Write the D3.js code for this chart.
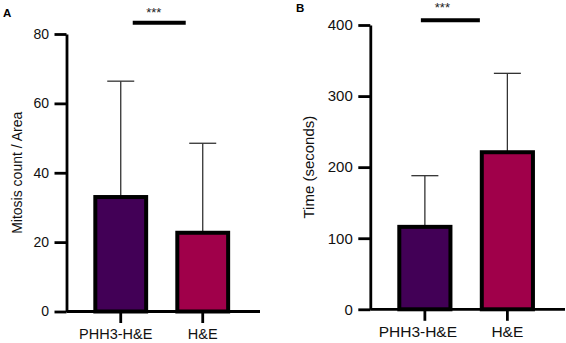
<!DOCTYPE html>
<html>
<head>
<meta charset="utf-8">
<script src="https://cdn.jsdelivr.net/npm/d3@7"></script>
<style>
  body { margin: 0; background: #fff; }
  svg { display: block; font-family: "Liberation Sans", Arial, Helvetica, sans-serif; }
</style>
</head>
<body>
<div id="chart"></div>
<script>
// groups shared by both panels
var groups = ["PHH3-H&E", "H&E"];
var barColors = ["#420056", "#a0004a"];

// panel A: mitosis count / area (mean, SD)
var mitosisMean = [33.0, 22.7];
var mitosisSD = [33.4, 25.8];
var mitosisTicks = [0, 20, 40, 60, 80];

// panel B: time in seconds (mean, SD)
var timeMean = [116, 221];
var timeSD = [72, 111];
var timeTicks = [0, 100, 200, 300, 400];

var sigLabel = "***";

var svg = d3.select("#chart").append("svg")
    .attr("width", 566)
    .attr("height", 343);

// Layout of each panel
var panels = [
  {
    letter: "A", letterX: 3, letterY: 17.3,
    yLabel: "Mitosis count / Area", yLabelX: 21.5, font: 14,
    mean: mitosisMean, sd: mitosisSD, ticks: mitosisTicks,
    xRange: [66.5, 260], yRange: [311.5, 34],
    xLabelY: 339, firstLabelDx: -5,
    sigY: 22.8, sigStarY: 17, sigFrom: 12, sigTo: -17, starDx: 33
  },
  {
    letter: "B", letterX: 296, letterY: 12.3,
    yLabel: "Time (seconds)", yLabelX: 314, font: 15,
    mean: timeMean, sd: timeSD, ticks: timeTicks,
    xRange: [370.3, 565], yRange: [309.3, 25],
    xLabelY: 337, firstLabelDx: -7,
    sigY: 20.3, sigStarY: 12, sigFrom: -4, sigTo: -27.5, starDx: 17.5
  }
];

function drawPanel(p) {
  var g = svg.append("g");

  var x = d3.scaleBand()
      .domain(groups)
      .range(p.xRange)
      .paddingInner(0.38)
      .paddingOuter(0.37)
      .align(0.475);

  var y = d3.scaleLinear()
      .domain([0, d3.max(p.ticks)])
      .range(p.yRange);

  var rows = groups.map(function(name, i) {
    return {name: name, mean: p.mean[i], sd: p.sd[i], color: barColors[i]};
  });

  // error bars (upper only)
  var err = g.selectAll(".err")
    .data(rows)
    .enter().append("g")
      .attr("class", "err")
      .style("stroke", "#333")
      .style("stroke-width", 1.3);
  err.append("line")
      .attr("x1", function(d) { return x(d.name) + x.bandwidth() / 2; })
      .attr("x2", function(d) { return x(d.name) + x.bandwidth() / 2; })
      .attr("y1", function(d) { return y(d.mean); })
      .attr("y2", function(d) { return y(d.mean + d.sd); });
  err.append("line")
      .attr("x1", function(d) { return x(d.name) + x.bandwidth() / 2 - 13.5; })
      .attr("x2", function(d) { return x(d.name) + x.bandwidth() / 2 + 13.5; })
      .attr("y1", function(d) { return y(d.mean + d.sd); })
      .attr("y2", function(d) { return y(d.mean + d.sd); });

  // bars
  g.selectAll(".bar")
    .data(rows)
    .enter().append("rect")
      .attr("class", "bar")
      .attr("x", function(d) { return x(d.name); })
      .attr("y", function(d) { return y(d.mean); })
      .attr("width", x.bandwidth())
      .attr("height", function(d) { return y(0) - y(d.mean); })
      .attr("fill", function(d) { return d.color; })
      .attr("stroke", "#000")
      .attr("stroke-width", 4);

  // y axis
  var yAxis = g.append("g")
      .attr("transform", "translate(" + p.xRange[0] + ",0)")
      .call(d3.axisLeft(y).tickValues(p.ticks).tickSize(12).tickSizeOuter(0).tickPadding(5.5));

  // x axis
  var xAxis = g.append("g")
      .attr("transform", "translate(0," + y(0) + ")")
      .call(d3.axisBottom(x).tickSize(11.5).tickSizeOuter(0).tickFormat(""));
  xAxis.select(".domain").attr("d", "M" + p.xRange[0] + ",0H" + p.xRange[1]);

  g.selectAll(".domain, .tick line")
      .style("stroke", "#000")
      .style("stroke-width", 2.8);
  yAxis.selectAll(".tick text")
      .style("font-size", p.font + "px")
      .style("fill", "#111");

  // x labels
  g.selectAll(".xlab")
    .data(groups)
    .enter().append("text")
      .attr("class", "xlab")
      .attr("x", function(d) { return x(d) + x.bandwidth() / 2; })
      .attr("dx", function(d, i) { return i === 0 ? p.firstLabelDx : 0; })
      .attr("y", p.xLabelY)
      .style("text-anchor", "middle")
      .style("font-size", (p.font + 0.5) + "px")
      .style("fill", "#111")
      .text(function(d) { return d; });

  // y label
  g.append("text")
      .attr("transform", "translate(" + p.yLabelX + "," + (p.yRange[0] + p.yRange[1]) / 2 + ") rotate(-90)")
      .style("text-anchor", "middle")
      .style("font-size", p.font + "px")
      .style("fill", "#111")
      .text(p.yLabel);

  // significance bar
  var c0 = x(groups[0]) + x.bandwidth() / 2;
  var c1 = x(groups[1]) + x.bandwidth() / 2;
  g.append("line")
      .attr("x1", c0 + p.sigFrom)
      .attr("x2", c1 + p.sigTo)
      .attr("y1", p.sigY)
      .attr("y2", p.sigY)
      .style("stroke", "#000")
      .style("stroke-width", 4);
  g.append("text")
      .attr("x", c0 + p.starDx)
      .attr("y", p.sigStarY)
      .style("text-anchor", "middle")
      .style("font-size", "13px")
      .style("fill", "#222")
      .text(sigLabel);

  // panel letter
  g.append("text")
      .attr("x", p.letterX)
      .attr("y", p.letterY)
      .style("font-size", "11.5px")
      .style("font-weight", "bold")
      .text(p.letter);
}

panels.forEach(drawPanel);
</script>
</body>
</html>
